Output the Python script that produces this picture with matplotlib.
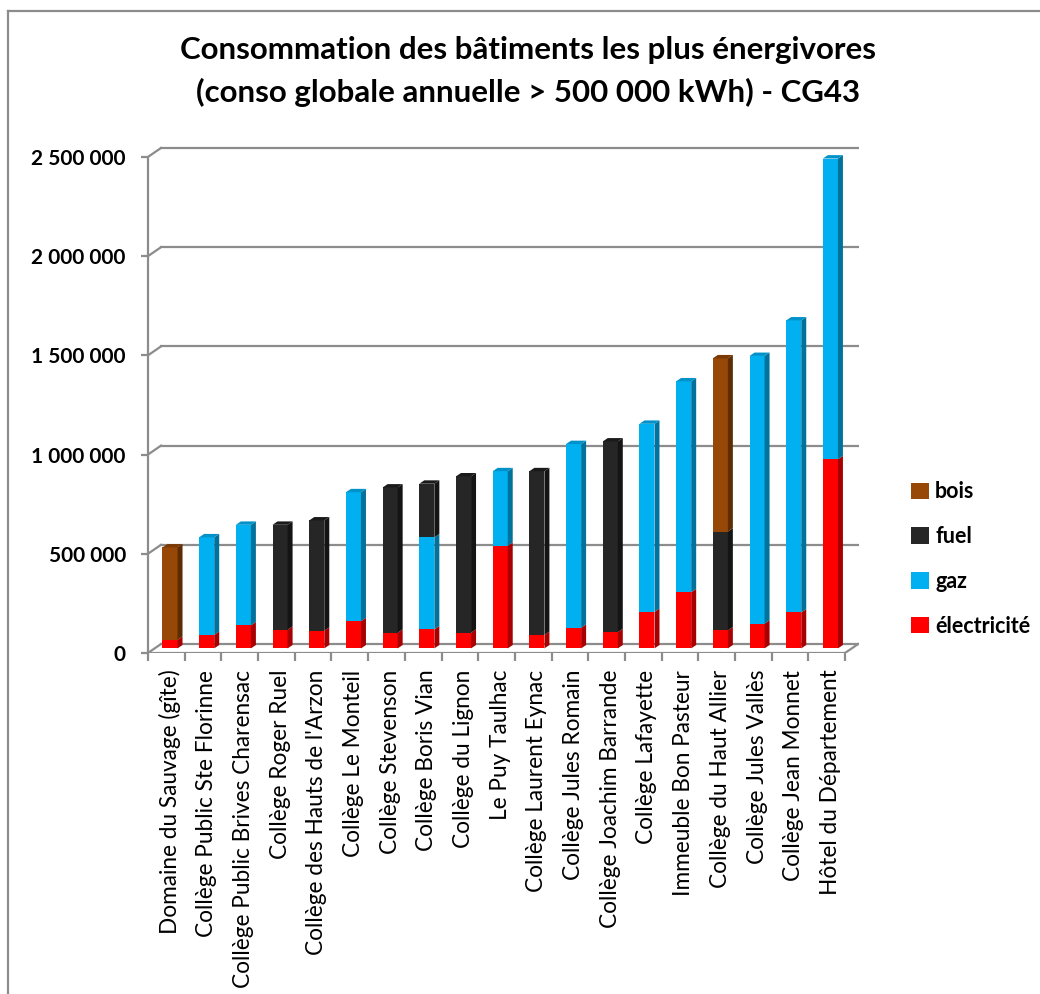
import matplotlib.pyplot as plt
from matplotlib.patches import Polygon
from matplotlib.lines import Line2D
import numpy as np

plt.rcParams['font.family'] = ['Lato', 'DejaVu Sans']

# Consommation annuelle (kWh)
batiments = [
    "Domaine du Sauvage (gîte)", "Collège Public Ste Florinne",
    "Collège Public Brives Charensac", "Collège Roger Ruel",
    "Collège des Hauts de l'Arzon", "Collège Le Monteil",
    "Collège Stevenson", "Collège Boris Vian", "Collège du Lignon",
    "Le Puy Taulhac", "Collège Laurent Eynac", "Collège Jules Romain",
    "Collège Joachim Barrande", "Collège Lafayette", "Immeuble Bon Pasteur",
    "Collège du Haut Allier", "Collège Jules Vallès", "Collège Jean Monnet",
    "Hôtel du Département",
]
electricite = [43000, 68000, 116000, 94000, 89000, 137000, 79000, 96000, 79000, 517000,
               68000, 104000, 82000, 184000, 283000, 91000, 125000, 181000, 953000]
gaz = [0, 492000, 507000, 0, 0, 650000, 0, 464000, 0, 376000,
       0, 926000, 0, 948000, 1063000, 0, 1349000, 1472000, 1516000]
fuel = [0, 0, 0, 529000, 556000, 0, 732000, 270000, 788000, 0,
        825000, 0, 961000, 0, 0, 498000, 0, 0, 0]
bois = [466000, 0, 0, 0, 0, 0, 0, 0, 0, 0,
        0, 0, 0, 0, 0, 873000, 0, 0, 0]
yticks = [0, 500000, 1000000, 1500000, 2000000, 2500000]

series = [
    ("électricité", electricite, "#ff0000", "#a80000", "#d00000"),
    ("gaz", gaz, "#00b0f0", "#00729c", "#0092c8"),
    ("fuel", fuel, "#262626", "#141414", "#1a1a1a"),
    ("bois", bois, "#974706", "#5e2c03", "#7a3905"),
]

fig = plt.figure(figsize=(10.4, 9.94), dpi=100)
ax = fig.add_axes([0.1423, 0.3431, 0.6837, 0.5110])

n = len(batiments)
x = np.arange(n) + 0.1
w = 0.41
base = 23000          # bars sit slightly behind the front edge
sdx, sdy = 0.136, 17000   # bar depth
wdx, wdy = 0.354, 45000   # back wall offset
grid_col = "#8c8c8c"

# back wall gridlines + floor
for v in yticks:
    ax.plot([-0.5 + wdx, 18.5 + wdx], [v + wdy, v + wdy], color=grid_col, lw=1.6, zorder=1)
    ax.plot([-0.5, -0.5 + wdx], [v, v + wdy], color=grid_col, lw=1.6, zorder=1)
ax.plot([-0.5, 18.5], [0, 0], color=grid_col, lw=1.6, zorder=1)
ax.plot([18.5, 18.5 + wdx], [0, wdy], color=grid_col, lw=1.6, zorder=1)

bottom = np.full(n, float(base))
top_col = [None] * n
handles = {}
for name, vals, col, side, topc in series:
    vals = np.array(vals, dtype=float)
    b = ax.bar(x, vals, w, bottom=bottom, color=col, linewidth=0, zorder=3, label=name)
    handles[name] = b
    for i in range(n):
        if vals[i] > 0:
            x1 = x[i] + w / 2
            y0, y1 = bottom[i], bottom[i] + vals[i]
            ax.add_patch(Polygon([(x1, y0), (x1 + sdx, y0 + sdy), (x1 + sdx, y1 + sdy), (x1, y1)],
                                 closed=True, facecolor=side, edgecolor="none", zorder=3))
            top_col[i] = topc
    bottom += vals

for i in range(n):
    x0, x1 = x[i] - w / 2, x[i] + w / 2
    t = bottom[i]
    ax.add_patch(Polygon([(x0, t), (x0 + sdx, t + sdy), (x1 + sdx, t + sdy), (x1, t)],
                         closed=True, facecolor=top_col[i], edgecolor="none", zorder=3))

ax.set_xlim(-0.5, 18.88)
ax.set_ylim(0, 2560000)
for s in ["top", "right", "bottom"]:
    ax.spines[s].set_visible(False)
ax.spines["left"].set_bounds(0, 2500000)
ax.spines["left"].set_color(grid_col)
ax.spines["left"].set_linewidth(1.6)

ax.set_yticks(yticks)
ax.set_yticklabels([f"{v:,}".replace(",", " ") for v in yticks], fontsize=15, fontweight="bold")
ax.tick_params(axis="y", length=5, width=1.6, color=grid_col, pad=11)

ax.set_xticks(x)
ax.set_xticklabels(batiments, rotation=90, fontsize=16.3)
ax.set_xticks(np.arange(-0.5, n, 1.0), minor=True)
ax.tick_params(axis="x", which="major", length=0, pad=12)
ax.tick_params(axis="x", which="minor", length=6, width=1.6, color=grid_col)

order = ["bois", "fuel", "gaz", "électricité"]
leg = ax.legend([handles[k] for k in order], order, loc="center left",
                bbox_to_anchor=(892 / 1040, 1 - 559 / 994), bbox_transform=fig.transFigure,
                frameon=False, handlelength=0.8, handleheight=0.8, handletextpad=0.3,
                labelspacing=1.1, prop={"size": 15.5, "weight": "bold"})

fig.text(0.508, 1 - 50 / 994, "Consommation des bâtiments les plus énergivores",
         ha="center", va="center", fontsize=22.5, fontweight="bold")
fig.text(0.508, 1 - 92 / 994, "(conso globale annuelle > 500 000 kWh) - CG43",
         ha="center", va="center", fontsize=22.5, fontweight="bold")

# chart frame
fig.add_artist(Line2D([8 / 1040, 8 / 1040], [0, 1 - 11 / 994], color="#8c8c8c", lw=1.6))
fig.add_artist(Line2D([8 / 1040, 1], [1 - 11 / 994, 1 - 11 / 994], color="#8c8c8c", lw=1.6))

fig.savefig("out.png", dpi=100)
